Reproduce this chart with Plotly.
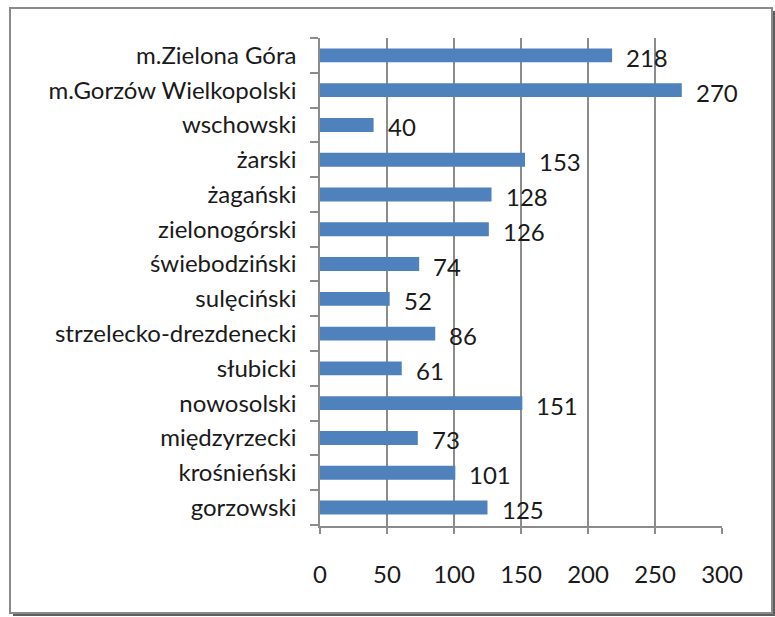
import plotly.graph_objects as go

categories = ["gorzowski", "krośnieński", "międzyrzecki", "nowosolski", "słubicki",
              "strzelecko-drezdenecki", "sulęciński", "świebodziński", "zielonogórski",
              "żagański", "żarski", "wschowski", "m.Gorzów Wielkopolski", "m.Zielona Góra"]
values = [125, 101, 73, 151, 61, 86, 52, 74, 126, 128, 153, 40, 270, 218]
x_ticks = [0, 50, 100, 150, 200, 250, 300]

FONT = "Lato, Open Sans, sans-serif"
TXT = "#1a1a1a"
GRID = "#8c8c8c"

fig = go.Figure()
fig.add_trace(go.Bar(
    x=values, y=categories, orientation="h",
    marker=dict(color="#4F81BD", line=dict(width=0)),
    hoverinfo="skip",
))

for c, v in zip(categories, values):
    fig.add_annotation(x=v, y=c, text=str(v), showarrow=False, xanchor="left",
                       xshift=12, yshift=-2, font=dict(family=FONT, size=24, color=TXT))

# frame shadow and frame
fig.add_shape(type="rect", xref="paper", yref="paper", xsizemode="pixel", ysizemode="pixel",
              xanchor=0, yanchor=0, x0=-307, x1=455, y0=-90, y1=515,
              line=dict(width=0), fillcolor="#5e5e5e", layer="below")
fig.add_shape(type="rect", xref="paper", yref="paper", xsizemode="pixel", ysizemode="pixel",
              xanchor=0, yanchor=0, x0=-310, x1=452, y0=-87, y1=518,
              line=dict(width=2, color="#8a8a8a"), fillcolor="white", layer="below")

fig.update_layout(
    width=775, height=617,
    margin=dict(l=320, r=53, t=38, b=91),
    paper_bgcolor="white", plot_bgcolor="rgba(0,0,0,0)",
    bargap=0.6, showlegend=False,
    font=dict(family=FONT, size=24, color=TXT),
)
fig.update_xaxes(range=[0, 300], tickvals=x_ticks, showgrid=True, gridcolor=GRID, gridwidth=1.5,
                 showline=True, linecolor=GRID, linewidth=1.5, ticks="outside", ticklen=6,
                 tickcolor=GRID, tickwidth=1.5, zeroline=False, ticklabelstandoff=20,
                 tickfont=dict(family=FONT, size=24, color=TXT), fixedrange=True)
fig.update_yaxes(categoryorder="array", categoryarray=categories, showgrid=False,
                 showline=True, linecolor=GRID, linewidth=1.5, ticks="outside", ticklen=8,
                 tickcolor=GRID, tickwidth=1.5, tickson="boundaries", ticklabelstandoff=17,
                 tickfont=dict(family=FONT, size=24, color=TXT), fixedrange=True)

fig.write_html("out.html", config={"displayModeBar": False},
               post_script="document.body.style.margin='0';")
